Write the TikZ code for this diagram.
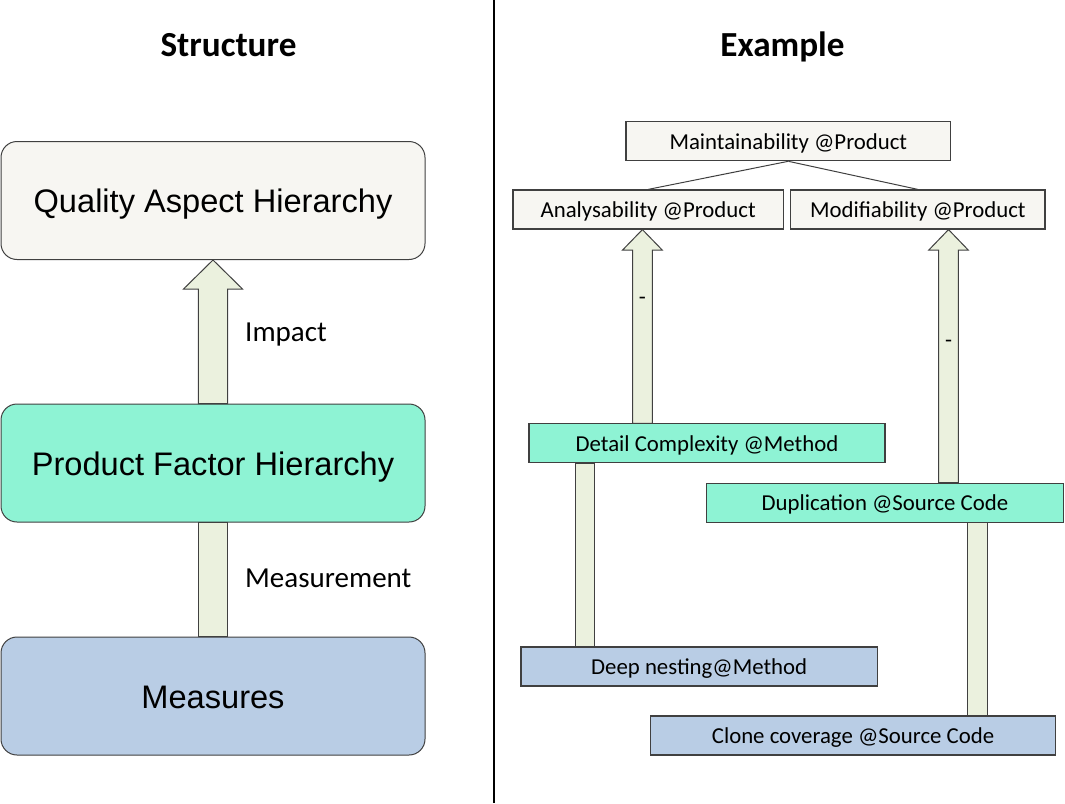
\documentclass[tikz,border=0pt]{standalone}
\usepackage{fontspec}
\setmainfont{Carlito}
\newfontfamily\boxfont{Liberation Sans}
\usetikzlibrary{calc}
\definecolor{aspectgray}{RGB}{247,246,242}
\definecolor{factorgreen}{RGB}{142,243,212}
\definecolor{measureblue}{RGB}{185,205,229}
\definecolor{arrowfill}{RGB}{235,241,222}
\definecolor{edgegray}{RGB}{64,64,64}
\begin{document}
\begin{tikzpicture}[x=1pt,y=-1pt,
    bigbox/.style={draw=edgegray,line width=1pt,rounded corners=16pt,minimum width=424pt,minimum height=118pt,inner sep=0pt,font=\boxfont\fontsize{32.6}{36}\selectfont,text height=24.5pt,text depth=0pt},
    smallbox/.style={draw=edgegray,line width=1.2pt,minimum height=39pt,inner sep=0pt,font=\fontsize{22.8}{26}\selectfont,text height=16.2pt,text depth=0pt},
    blockarrow/.style={fill=arrowfill,draw=edgegray,line width=1pt},
    heading/.style={font=\bfseries\fontsize{35.2}{40}\selectfont,anchor=base,inner sep=0pt},
    linklabel/.style={font=\fontsize{29}{34}\selectfont,anchor=base west,inner sep=0pt},
    signlabel/.style={font=\fontsize{22.8}{26}\selectfont,anchor=base,inner sep=0pt}]
  \useasboundingbox (0,0) rectangle (1065,803);

  % Headings and divider
  \node[heading] (structtitle) at (228.5,56.5) {Structure};
  \node[heading] (exampletitle) at (782.5,56.5) {Example};
  \draw[line width=2pt] (494,0) -- (494,803);

  % Structure
  \node[bigbox,fill=aspectgray] (aspects) at (213,200.5) {Quality Aspect Hierarchy};
  \node[bigbox,fill=factorgreen] (factors) at (213,463) {Product Factor Hierarchy};
  \node[bigbox,fill=measureblue] (measures) at (213,696) {Measures};

  \draw[blockarrow] (198.3,0 |- factors.north) -- (198.3,289) -- (183.5,289) -- (aspects.south)
    -- (242.5,289) -- (227.7,289) -- (227.7,0 |- factors.north) -- cycle;
  \draw[blockarrow] (198.3,0 |- factors.south) rectangle (227.7,0 |- measures.north);
  \node[linklabel] (impact) at (245,341.7) {Impact};
  \node[linklabel] (measurement) at (245,587.3) {Measurement};

  % Example
  \node[smallbox,fill=aspectgray,minimum width=324.7pt] (maint) at (788.35,141.2) {Maintainability @Product};
  \node[smallbox,fill=aspectgray,minimum width=270.3pt] (analys) at (648.15,209.5) {Analysability @Product};
  \node[smallbox,fill=aspectgray,minimum width=254.3pt] (modif) at (917.85,209.5) {Modifiability @Product};
  \node[smallbox,fill=factorgreen,minimum width=356pt] (detail) at (707,443.35) {Detail Complexity @Method};
  \node[smallbox,fill=factorgreen,minimum width=356.6pt] (dupl) at (885,502.8) {Duplication @Source Code};
  \node[smallbox,fill=measureblue,minimum width=356.3pt] (nesting) at (699.15,666.5) {Deep nesting@Method};
  \node[smallbox,fill=measureblue,minimum width=405.4pt] (clone) at (853,735.5) {Clone coverage @Source Code};

  \draw[edgegray,line width=1pt] (maint.south) -- (analys.north);
  \draw[edgegray,line width=1pt] (maint.south) -- (modif.north);

  \draw[blockarrow] (632.5,0 |- detail.north) -- (632.5,250) -- (622.6,250) -- (642.4,0 |- analys.south)
    -- (662.2,250) -- (652.3,250) -- (652.3,0 |- detail.north) -- cycle;
  \draw[blockarrow] (938.7,0 |- dupl.north) -- (938.7,250) -- (928.8,250) -- (948.5,0 |- modif.south)
    -- (968.2,250) -- (958.3,250) -- (958.3,0 |- dupl.north) -- cycle;
  \draw[blockarrow] (575,0 |- detail.south) rectangle (594.3,0 |- nesting.north);
  \draw[blockarrow] (967.5,0 |- dupl.south) rectangle (987.2,0 |- clone.north);

  \node[signlabel] (analyssign) at (642.4,304.5) {-};
  \node[signlabel] (modifsign) at (948.5,347.2) {-};
\end{tikzpicture}
\end{document}
